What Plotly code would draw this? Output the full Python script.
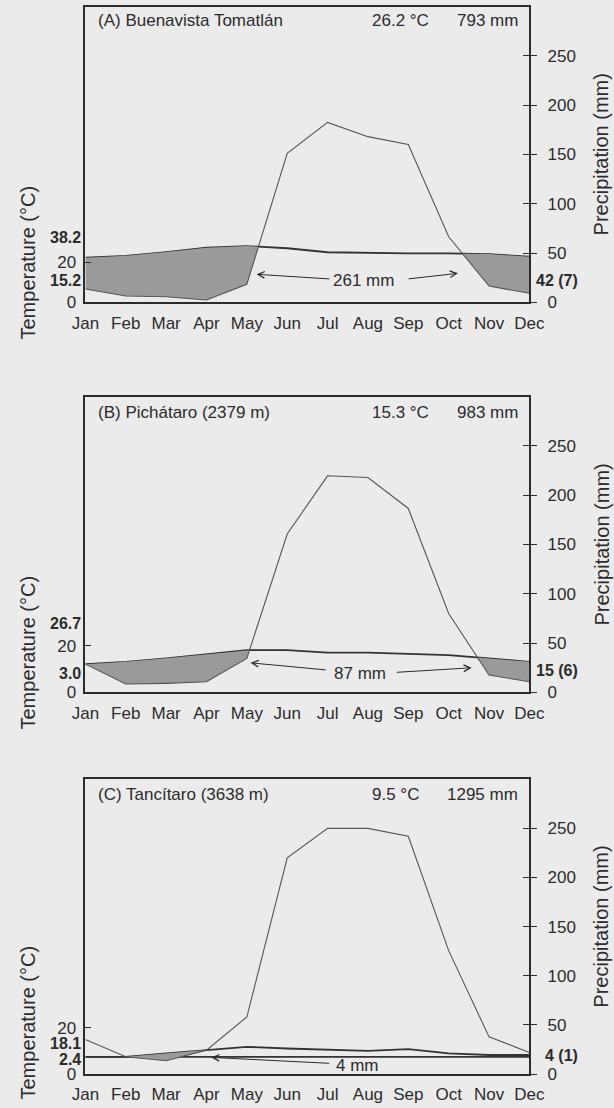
import plotly.graph_objects as go

# ---------------- data ----------------
months = ["Jan", "Feb", "Mar", "Apr", "May", "Jun", "Jul", "Aug", "Sep", "Oct", "Nov", "Dec"]

a_temp = [22.3, 23.2, 25.1, 27.3, 28.1, 27.0, 25.0, 24.6, 24.4, 24.4, 24.1, 22.8]   # deg C
a_prec = [13.5, 6.4, 5.7, 2.3, 18.3, 151, 182.5, 168, 160, 66.5, 16.5, 9.1]       # mm
b_temp = [12.1, 13.1, 14.6, 16.4, 18.1, 18.1, 17.1, 17.1, 16.7, 16.0, 14.6, 13.1]
b_prec = [28.6, 8.4, 9.1, 10.7, 34.4, 160.7, 219.7, 218, 186.6, 79.9, 17.5, 10.7]
c_temp = [7.4, 7.4, 8.9, 10.3, 11.7, 11.0, 10.6, 10.0, 10.7, 8.9, 8.2, 8.2]
c_prec = [35.2, 17.5, 13.5, 24.3, 58, 220, 250, 250, 242, 125.6, 37.8, 22]
c_base = [7.4] * 12

titles = ["(A) Buenavista Tomatlán", "(B) Pichátaro (2379 m)", "(C) Tancítaro (3638 m)"]
mean_t = ["26.2 °C", "15.3 °C", "9.5 °C"]
total_p = ["793 mm", "983 mm", "1295 mm"]
t_max_lbl = ["38.2", "26.7", "18.1"]
t_min_lbl = ["15.2", "3.0", "2.4"]
right_lbl = ["42 (7)", "15 (6)", "4 (1)"]
dry_lbl = ["261 mm", "87 mm", "4 mm"]

# mm of precipitation per degree C on each panel
mm_per_deg = [2.03, 2.36, 2.36]

prec_ticks = [0, 50, 100, 150, 200, 250]
temp_ticks = [0, 20]

# ---------------- style / layout ----------------
BG = "#ebebeb"
INK = "#2b2b2b"
FILL = "#9a9a9a"
FONT = "Liberation Sans, Arial, sans-serif"
W, H = 614, 1108

x_left, x_right = 85.4, 529.4
panels_px = [(6.5, 302.3), (396.7, 692.3), (779.3, 1074.0)]  # top, bottom px
temp_title_px = [263, 653, 1023]


def px2fx(px):
    return px / W


def px2fy(py):
    return 1 - py / H


def dry_polys(t_mm, p):
    polys, cur = [], []
    for i in range(len(p)):
        d = t_mm[i] - p[i]
        if d > 0:
            if not cur and i > 0:
                dp = t_mm[i - 1] - p[i - 1]
                f = dp / (dp - d)
                yi = p[i - 1] + f * (p[i] - p[i - 1])
                cur.append((i - 1 + f, yi, yi))
            cur.append((i, t_mm[i], p[i]))
        else:
            if cur:
                dp = t_mm[i - 1] - p[i - 1]
                f = dp / (dp - d)
                yi = p[i - 1] + f * (p[i] - p[i - 1])
                cur.append((i - 1 + f, yi, yi))
                polys.append(cur)
                cur = []
    if cur:
        polys.append(cur)
    xs, ys = [], []
    for poly in polys:
        xs += [q[0] for q in poly] + [q[0] for q in reversed(poly)] + [poly[0][0], None]
        ys += [q[1] for q in poly] + [q[2] for q in reversed(poly)] + [poly[0][1], None]
    return xs, ys


fig = go.Figure()
temps = [a_temp, b_temp, c_temp]
precs = [a_prec, b_prec, c_prec]
xi = list(range(12))

# annotation geometry (data coords on precip axis: month index, mm)
arrows = [
    [dict(tip=(4.24, 28.4), tail=(6.08, 23.6)), dict(tip=(9.23, 29.4), tail=(7.97, 23.6))],
    [dict(tip=(4.09, 29.9), tail=(5.99, 22.6)), dict(tip=(9.57, 24.9), tail=(7.68, 20.2))],
    [dict(tip=(3.12, 16.9), tail=(6.08, 10.8))],
]
dry_text_pos = [(6.90, 22.6), (6.81, 19.2), (6.73, 8.6)]
title_y = [285.6, 283.7, 284.4]
tmax_y = [32.2, 29.6, 13.2]      # deg C axis positions of labels
tmin_y = [10.85, 8.1, 6.3]
right_y = [22.6, 22.5, 19.2]

annotations = []
layout = dict(
    template="none",
    width=W, height=H, margin=dict(l=0, r=0, t=0, b=0, pad=0), autosize=False,
    paper_bgcolor=BG, plot_bgcolor=BG, showlegend=False,
    font=dict(family=FONT, size=17, color=INK),
)

for k in range(3):
    top, bot = panels_px[k]
    xn = "x" if k == 0 else f"x{k + 1}"
    yt_n = 2 * k + 1
    yp_n = 2 * k + 2
    yc_n = 7 + k
    yt = "y" if yt_n == 1 else f"y{yt_n}"
    yp = f"y{yp_n}"
    yc = f"y{yc_n}"
    dom_y = [px2fy(bot), px2fy(top)]
    kmm = mm_per_deg[k]
    t_mm = [v * kmm for v in temps[k]]

    fx, fy = dry_polys(t_mm, precs[k])
    fig.add_trace(go.Scatter(x=fx, y=fy, xaxis=xn, yaxis=yp, mode="lines", fill="toself",
                             fillcolor=FILL, line=dict(width=0), hoverinfo="skip"))
    fig.add_trace(go.Scatter(x=xi, y=precs[k], xaxis=xn, yaxis=yp, mode="lines",
                             line=dict(color="#555555", width=1.1)))
    if k == 2:
        fig.add_trace(go.Scatter(x=xi, y=c_base, xaxis=xn, yaxis=yt, mode="lines",
                                 line=dict(color="#333333", width=1.6)))
    fig.add_trace(go.Scatter(x=xi, y=temps[k], xaxis=xn, yaxis=yt, mode="lines",
                             line=dict(color="#333333", width=1.8)))
    fig.add_trace(go.Scatter(x=[None], y=[None], xaxis=xn, yaxis=yc, mode="lines"))

    xkey = "xaxis" if k == 0 else f"xaxis{k + 1}"
    layout[xkey] = dict(
        domain=[px2fx(x_left), px2fx(x_right)], anchor=yp, range=[0, 11], automargin=False,
        tickmode="array", tickvals=xi, ticktext=months, ticks="",
        showline=True, mirror=True, linecolor=INK, linewidth=1.6,
        showgrid=False, zeroline=False, tickfont=dict(size=17), ticklabelstandoff=4,
    )
    ytkey = "yaxis" if yt_n == 1 else f"yaxis{yt_n}"
    layout[ytkey] = dict(
        domain=dom_y, anchor=xn, side="left", range=[0, 300 / kmm], automargin=False,
        tickmode="array", tickvals=temp_ticks, ticks="inside", ticklen=6, tickcolor=INK,
        showline=True, linecolor=INK, linewidth=1.6, showgrid=False, zeroline=False,
        tickfont=dict(size=17), ticklabelstandoff=4,
    )
    layout[f"yaxis{yp_n}"] = dict(
        domain=dom_y, anchor=xn, overlaying=yt, side="right", range=[0, 300], automargin=False,
        tickmode="array", tickvals=prec_ticks, ticks="outside", ticklen=6, tickcolor=INK,
        showline=True, linecolor=INK, linewidth=1.6, showgrid=False, zeroline=False,
        tickfont=dict(size=17), ticklabelstandoff=7,
    )
    layout[f"yaxis{yc_n}"] = dict(
        domain=dom_y, anchor=xn, overlaying=yt, side="right", range=[0, 300], automargin=False,
        tickmode="array", tickvals=prec_ticks, ticks="inside", ticklen=6, tickcolor=INK,
        showticklabels=False, showline=False, showgrid=False, zeroline=False,
    )

    # texts inside panel
    annotations.append(dict(x=px2fx(96), xref="paper", xanchor="left", y=title_y[k], yref=yp,
                            yanchor="middle", text=titles[k], showarrow=False, font=dict(size=17)))
    annotations.append(dict(x=px2fx(370), xref="paper", xanchor="left", y=title_y[k], yref=yp,
                            yanchor="middle", text=mean_t[k], showarrow=False, font=dict(size=17)))
    annotations.append(dict(x=px2fx(520), xref="paper", xanchor="right", y=title_y[k], yref=yp,
                            yanchor="middle", text=total_p[k], showarrow=False, font=dict(size=17)))
    # bold labels
    annotations.append(dict(x=px2fx(83), xref="paper", xanchor="right", y=tmax_y[k], yref=yt,
                            yanchor="middle", text=f"<b>{t_max_lbl[k]}</b>", showarrow=False,
                            font=dict(size=16)))
    annotations.append(dict(x=px2fx(83), xref="paper", xanchor="right", y=tmin_y[k], yref=yt,
                            yanchor="middle", text=f"<b>{t_min_lbl[k]}</b>", showarrow=False,
                            font=dict(size=16)))
    annotations.append(dict(x=px2fx(580), xref="paper", xanchor="right", y=right_y[k], yref=yp,
                            yanchor="middle", text=f"<b>{right_lbl[k]}</b>", showarrow=False,
                            font=dict(size=16)))
    # dry-period text and arrows
    tx, ty = dry_text_pos[k]
    annotations.append(dict(x=tx, xref=xn, y=ty, yref=yp, xanchor="center", yanchor="middle",
                            text=dry_lbl[k], showarrow=False, font=dict(size=17)))
    for a in arrows[k]:
        annotations.append(dict(x=a["tip"][0], y=a["tip"][1], xref=xn, yref=yp,
                                ax=a["tail"][0], ay=a["tail"][1], axref=xn, ayref=yp,
                                showarrow=True, arrowhead=5, arrowsize=1.3, arrowwidth=1,
                                arrowcolor=INK, text=""))
    # axis titles
    annotations.append(dict(x=px2fx(27.5), xref="paper", xanchor="center",
                            y=px2fy(temp_title_px[k]), yref="paper", yanchor="middle",
                            text="Temperature (°C)", textangle=-90, showarrow=False,
                            font=dict(size=20)))
    annotations.append(dict(x=px2fx(601), xref="paper", xanchor="center",
                            y=px2fy((top + bot) / 2), yref="paper", yanchor="middle",
                            text="Precipitation (mm)", textangle=-90, showarrow=False,
                            font=dict(size=20)))

layout["annotations"] = annotations
fig.update_layout(**layout)
fig.write_html("out.html", config={"displayModeBar": False},
               post_script="document.body.style.margin='0px';document.body.style.overflow='hidden';")
